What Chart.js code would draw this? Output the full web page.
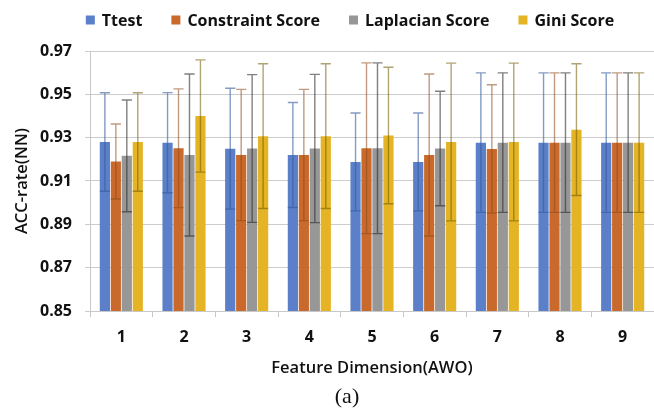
<!DOCTYPE html>
<html>
<head>
<meta charset="utf-8">
<script src="https://cdn.jsdelivr.net/npm/chart.js@4/dist/chart.umd.min.js"></script>
<style>
  html, body { margin: 0; padding: 0; background: #ffffff; overflow: hidden; }
  #wrap { width: 654px; height: 409px; position: relative; }
</style>
</head>
<body>
<div id="wrap"><canvas id="chart" width="654" height="409"></canvas></div>
<script>
// Feature dimensions on the x axis
const dimensions = ['1', '2', '3', '4', '5', '6', '7', '8', '9'];

// Mean accuracy per method
const ttestMean      = [0.9280, 0.9277, 0.9249, 0.9220, 0.9188, 0.9188, 0.9277, 0.9277, 0.9277];
const constraintMean = [0.9190, 0.9251, 0.9220, 0.9220, 0.9251, 0.9220, 0.9248, 0.9277, 0.9277];
const laplacianMean  = [0.9216, 0.9220, 0.9250, 0.9250, 0.9251, 0.9250, 0.9277, 0.9277, 0.9277];
const giniMean       = [0.9280, 0.9400, 0.9307, 0.9307, 0.9310, 0.9280, 0.9280, 0.9337, 0.9277];

// Standard deviation per method (error bar half-length)
const ttestStd      = [0.0227, 0.0231, 0.0279, 0.0242, 0.0226, 0.0226, 0.0322, 0.0322, 0.0322];
const constraintStd = [0.0173, 0.0274, 0.0303, 0.0303, 0.0394, 0.0374, 0.0296, 0.0322, 0.0322];
const laplacianStd  = [0.0258, 0.0374, 0.0341, 0.0342, 0.0394, 0.0264, 0.0322, 0.0322, 0.0322];
const giniStd       = [0.0227, 0.0259, 0.0334, 0.0334, 0.0315, 0.0364, 0.0364, 0.0304, 0.0322];

const seriesNames = ['Ttest', 'Constraint Score', 'Laplacian Score', 'Gini Score'];

// y axis range and tick step
const yMin = 0.85, yMax = 0.97, yStep = 0.02;

const fillColors = ['#5b80c9', '#c96a2c', '#979797', '#e4b425'];
const errColors  = ['rgba(50,88,155,0.6)', 'rgba(140,71,24,0.55)', 'rgba(43,43,43,0.6)', 'rgba(111,90,0,0.55)'];

const means = [ttestMean, constraintMean, laplacianMean, giniMean];
const stds  = [ttestStd, constraintStd, laplacianStd, giniStd];

const FONT = "'Open Sans', 'DejaVu Sans', sans-serif";

// Draws mean ± std whiskers on top of each bar
const errorBars = {
  id: 'errorBars',
  afterDatasetsDraw(chart) {
    const { ctx, scales: { y } } = chart;
    ctx.save();
    chart.data.datasets.forEach((ds, di) => {
      const meta = chart.getDatasetMeta(di);
      meta.data.forEach((bar, i) => {
        const m = ds.data[i], s = ds.errors[i];
        const top = y.getPixelForValue(m + s);
        const bot = y.getPixelForValue(m - s);
        const half = bar.width * 0.5;
        ctx.strokeStyle = ds.errorColor;
        ctx.lineWidth = 1.4;
        ctx.beginPath();
        ctx.moveTo(bar.x, top); ctx.lineTo(bar.x, bot);
        ctx.moveTo(bar.x - half, top); ctx.lineTo(bar.x + half, top);
        ctx.moveTo(bar.x - half, bot); ctx.lineTo(bar.x + half, bot);
        ctx.stroke();
      });
    });
    ctx.restore();
  }
};

// Legend row across the top and the panel caption underneath
const decorations = {
  id: 'decorations',
  afterDraw(chart) {
    const ctx = chart.ctx;
    ctx.save();
    ctx.font = "bold 16px " + FONT;
    ctx.textBaseline = 'middle';
    const box = 9, gapBox = 7, gapItem = 29;
    const widths = chart.data.datasets.map(ds => ctx.measureText(ds.label).width);
    const total = widths.reduce((a, w) => a + box + gapBox + w, 0) + gapItem * (widths.length - 1);
    let x = 350 - total / 2;
    const yMid = 20;
    chart.data.datasets.forEach((ds, i) => {
      ctx.fillStyle = ds.backgroundColor;
      ctx.fillRect(x, yMid - box / 2, box, box);
      x += box + gapBox;
      ctx.fillStyle = '#111111';
      ctx.textAlign = 'left';
      ctx.fillText(ds.label, x, yMid + 1);
      x += widths[i] + gapItem;
    });
    ctx.font = "22px 'Liberation Serif', 'DejaVu Serif', serif";
    ctx.textAlign = 'center';
    ctx.fillStyle = '#111111';
    ctx.fillText('(a)', 347, 397);
    ctx.restore();
  }
};

const datasets = seriesNames.map((name, i) => ({
  label: name,
  data: means[i],
  errors: stds[i],
  backgroundColor: fillColors[i],
  errorColor: errColors[i],
  borderWidth: 0,
  categoryPercentage: 0.7,
  barPercentage: 0.93
}));

new Chart(document.getElementById('chart'), {
  type: 'bar',
  data: { labels: dimensions, datasets },
  options: {
    responsive: false,
    animation: false,
    devicePixelRatio: 1,
    layout: { padding: { top: 51, right: 0, bottom: 31, left: 0 } },
    plugins: {
      legend: { display: false },
      tooltip: { enabled: false }
    },
    scales: {
      x: {
        grid: { drawOnChartArea: false, drawTicks: true, tickLength: 6, color: '#c8c8c8', offset: true },
        border: { color: '#c8c8c8' },
        ticks: { color: '#111111', font: { family: FONT, size: 16, weight: 'bold' }, padding: 11 },
        title: {
          display: true, text: 'Feature Dimension(AWO)', color: '#111111',
          font: { family: FONT, size: 16.5, weight: '600' }, padding: { top: 4, bottom: 0 }
        },
        afterFit(scale) { scale.height = 67; }
      },
      y: {
        min: yMin, max: yMax,
        grid: { color: '#cccccc', drawTicks: true, tickLength: 5 },
        border: { color: '#c8c8c8' },
        ticks: {
          stepSize: yStep, color: '#111111', padding: 13,
          font: { family: FONT, size: 16, weight: 'bold' },
          callback: v => Number(v).toFixed(2)
        },
        title: {
          display: true, text: 'ACC-rate(NN)', color: '#111111',
          font: { family: FONT, size: 16.5, weight: '600' }, padding: 12
        },
        afterFit(scale) { scale.width = 90; }
      }
    }
  },
  plugins: [errorBars, decorations]
});
</script>
</body>
</html>
